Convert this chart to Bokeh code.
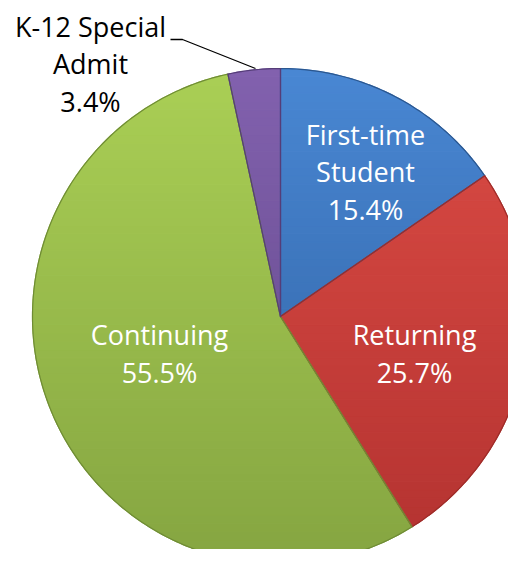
import numpy as np
from bokeh.plotting import figure
from bokeh.core.properties import value
from bokeh.embed import file_html
from bokeh.resources import INLINE

# ---- data ----
categories = ["First-time Student", "Returning", "Continuing", "K-12 Special Admit"]
shares = [15.4, 25.7, 55.5, 3.4]
label_lines = [["First-time", "Student", "15.4%"],
               ["Returning", "25.7%"],
               ["Continuing", "55.5%"],
               ["K-12 Special", "Admit", "3.4%"]]

# ---- style ----
top_colors = ["#4987D3", "#DC4C45", "#AACF55", "#8261AE"]
bottom_colors = ["#2D5E9E", "#B33230", "#85A541", "#5E4585"]
edge_colors = ["#2B578F", "#9E2C29", "#6F8C35", "#553D78"]

W, H = 508, 549
p = figure(width=W, height=H, x_range=(0, W), y_range=(0, H),
           output_backend="svg", toolbar_location=None, min_border=0)
p.axis.visible = False
p.grid.visible = False
p.outline_line_color = None
p.background_fill_color = "white"
p.border_fill_color = "white"


def sy(v):
    # screen px (from top of figure) -> data y
    return H - v


def hex2rgb(h):
    return np.array([int(h[i:i + 2], 16) for i in (1, 3, 5)], dtype=float)


def rgb2hex(c):
    return "#%02x%02x%02x" % tuple(int(round(v)) for v in np.clip(c, 0, 255))


def clip_band(poly, y0, y1):
    # Sutherland-Hodgman clip against y >= y0 and y <= y1
    def clip(pts, inside, inter):
        out = []
        n = len(pts)
        for k in range(n):
            a, b = pts[k - 1], pts[k]
            ia, ib = inside(a), inside(b)
            if ib:
                if not ia:
                    out.append(inter(a, b))
                out.append(b)
            elif ia:
                out.append(inter(a, b))
        return out

    def ix(a, b, yy):
        t = (yy - a[1]) / (b[1] - a[1])
        return (a[0] + t * (b[0] - a[0]), yy)

    pts = clip(poly, lambda q: q[1] >= y0, lambda a, b: ix(a, b, y0))
    if not pts:
        return []
    pts = clip(pts, lambda q: q[1] <= y1, lambda a, b: ix(a, b, y1))
    return pts


cx, cy, r = 280, sy(316), 248

frac = np.array(shares) / np.sum(shares)
cum = np.concatenate([[0], np.cumsum(frac)])
start = np.pi / 2 - cum[:-1] * 2 * np.pi
end = np.pi / 2 - cum[1:] * 2 * np.pi

nb = 60
edges = np.linspace(cy - r, cy + r, nb + 1)
xs, ys, fills = [], [], []
outline_x, outline_y = [], []
for i in range(len(shares)):
    ang = np.linspace(start[i], end[i], max(8, int(400 * frac[i])))
    poly = [(cx, cy)] + [(cx + r * np.cos(a), cy + r * np.sin(a)) for a in ang]
    outline_x.append([q[0] for q in poly])
    outline_y.append([q[1] for q in poly])
    ct, cb = hex2rgb(top_colors[i]), hex2rgb(bottom_colors[i])
    for b in range(nb):
        y0, y1 = edges[b], edges[b + 1]
        piece = clip_band(poly, y0, y1)
        if len(piece) < 3:
            continue
        t = 1 - ((y0 + y1) / 2 - (cy - r)) / (2 * r)  # 0 at top, 1 at bottom
        col = rgb2hex(ct * (1 - t) + cb * t)
        xs.append([q[0] for q in piece])
        ys.append([q[1] for q in piece])
        fills.append(col)

p.patches(xs=xs, ys=ys, fill_color=fills, line_color=fills, line_width=1.2)
p.patches(xs=outline_x, ys=outline_y, fill_color=None, line_color=edge_colors,
          line_width=1.2, line_join="round")

# label centres (screen px)
label_pos = [(365, 171), (414, 353), (159, 353), (90, 63)]
line_h = 37.5
tx, ty, tt, tc = [], [], [], []
for i, lines in enumerate(label_lines):
    lx, ly = label_pos[i]
    n = len(lines)
    for j, s in enumerate(lines):
        tx.append(lx)
        ty.append(sy(ly + (j - (n - 1) / 2) * line_h))
        tt.append(s)
        tc.append("black" if i == 3 else "white")
p.text(x=tx, y=ty, text=tt, text_color=tc, text_align="center",
       text_baseline="middle", text_font=value("Open Sans"), text_font_size="27px")

# leader line for the small slice
p.line(x=[170, 182, 255], y=[sy(39), sy(39), sy(68)], line_color="black", line_width=1.3)

open("out.html", "w").write(file_html(p, INLINE))
